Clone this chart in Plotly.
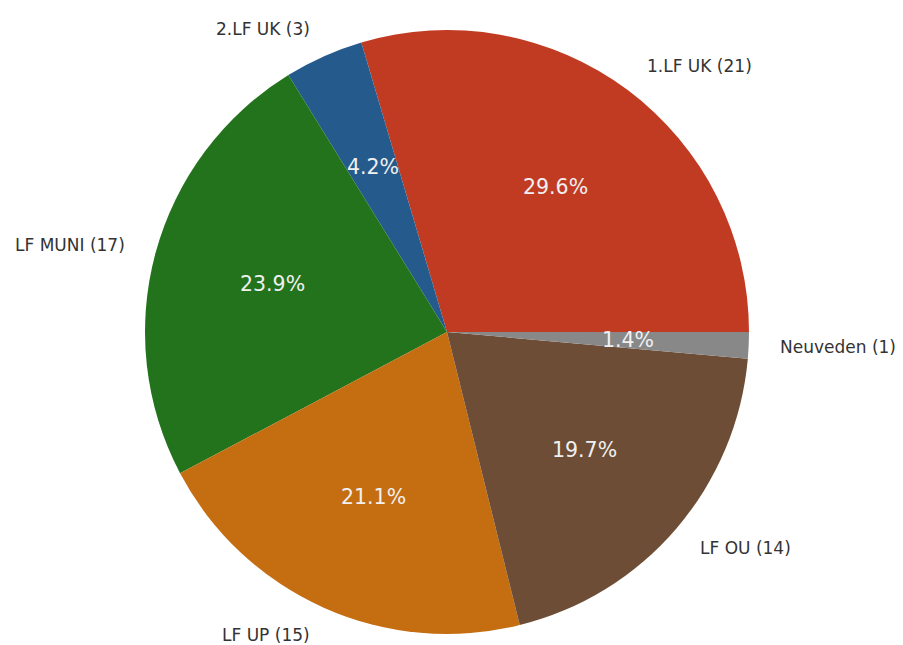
import math
import plotly.graph_objects as go

labels = ["1.LF UK", "2.LF UK", "LF MUNI", "LF UP", "LF OU", "Neuveden"]
counts = [21, 3, 17, 15, 14, 1]
colors = ["#c13b23", "#255b8c", "#22731c", "#c46e11", "#6d4d35", "#888888"]

# page body has an 8px margin, so the figure is laid out in page coords minus 8
W, H = 895, 637
cx, cy, r = 439, 324, 302
margin = dict(l=cx - r, r=W - (cx + r), t=cy - r, b=H - (cy + r))

total = sum(counts)
# counterclockwise pies in plotly end the first slice at the rotation point
rotation = 90 - 360.0 * counts[0] / total

fig = go.Figure(go.Pie(
    labels=labels, values=counts, sort=False,
    direction="counterclockwise", rotation=rotation,
    marker=dict(colors=colors, line=dict(width=0)),
    textinfo="none", hoverinfo="label+value+percent", showlegend=False,
))

ann = []
start = 0.0
for lab, v in zip(labels, counts):
    ang = 360.0 * v / total
    mid = math.radians(start + ang / 2)
    start += ang
    c, s = math.cos(mid), math.sin(mid)
    ann.append(dict(x=0.5 + 0.5 * 1.1 * c, y=0.5 + 0.5 * 1.1 * s, xref="paper", yref="paper",
                    text=f"{lab} ({v})", showarrow=False, borderpad=0,
                    xanchor="left" if c > 0 else "right", yanchor="middle",
                    font=dict(family="DejaVu Sans", size=17, color="#333333")))
    ann.append(dict(x=0.5 + 0.5 * 0.6 * c, y=0.5 + 0.5 * 0.6 * s, xref="paper", yref="paper",
                    text=f"{100.0 * v / total:.1f}%", showarrow=False, borderpad=0,
                    xanchor="center", yanchor="middle",
                    font=dict(family="DejaVu Sans", size=20.5, color="#f0f0f0")))

fig.update_layout(width=W, height=H, margin=margin, paper_bgcolor="white",
                  plot_bgcolor="white", annotations=ann)
fig.write_html("out.html")
